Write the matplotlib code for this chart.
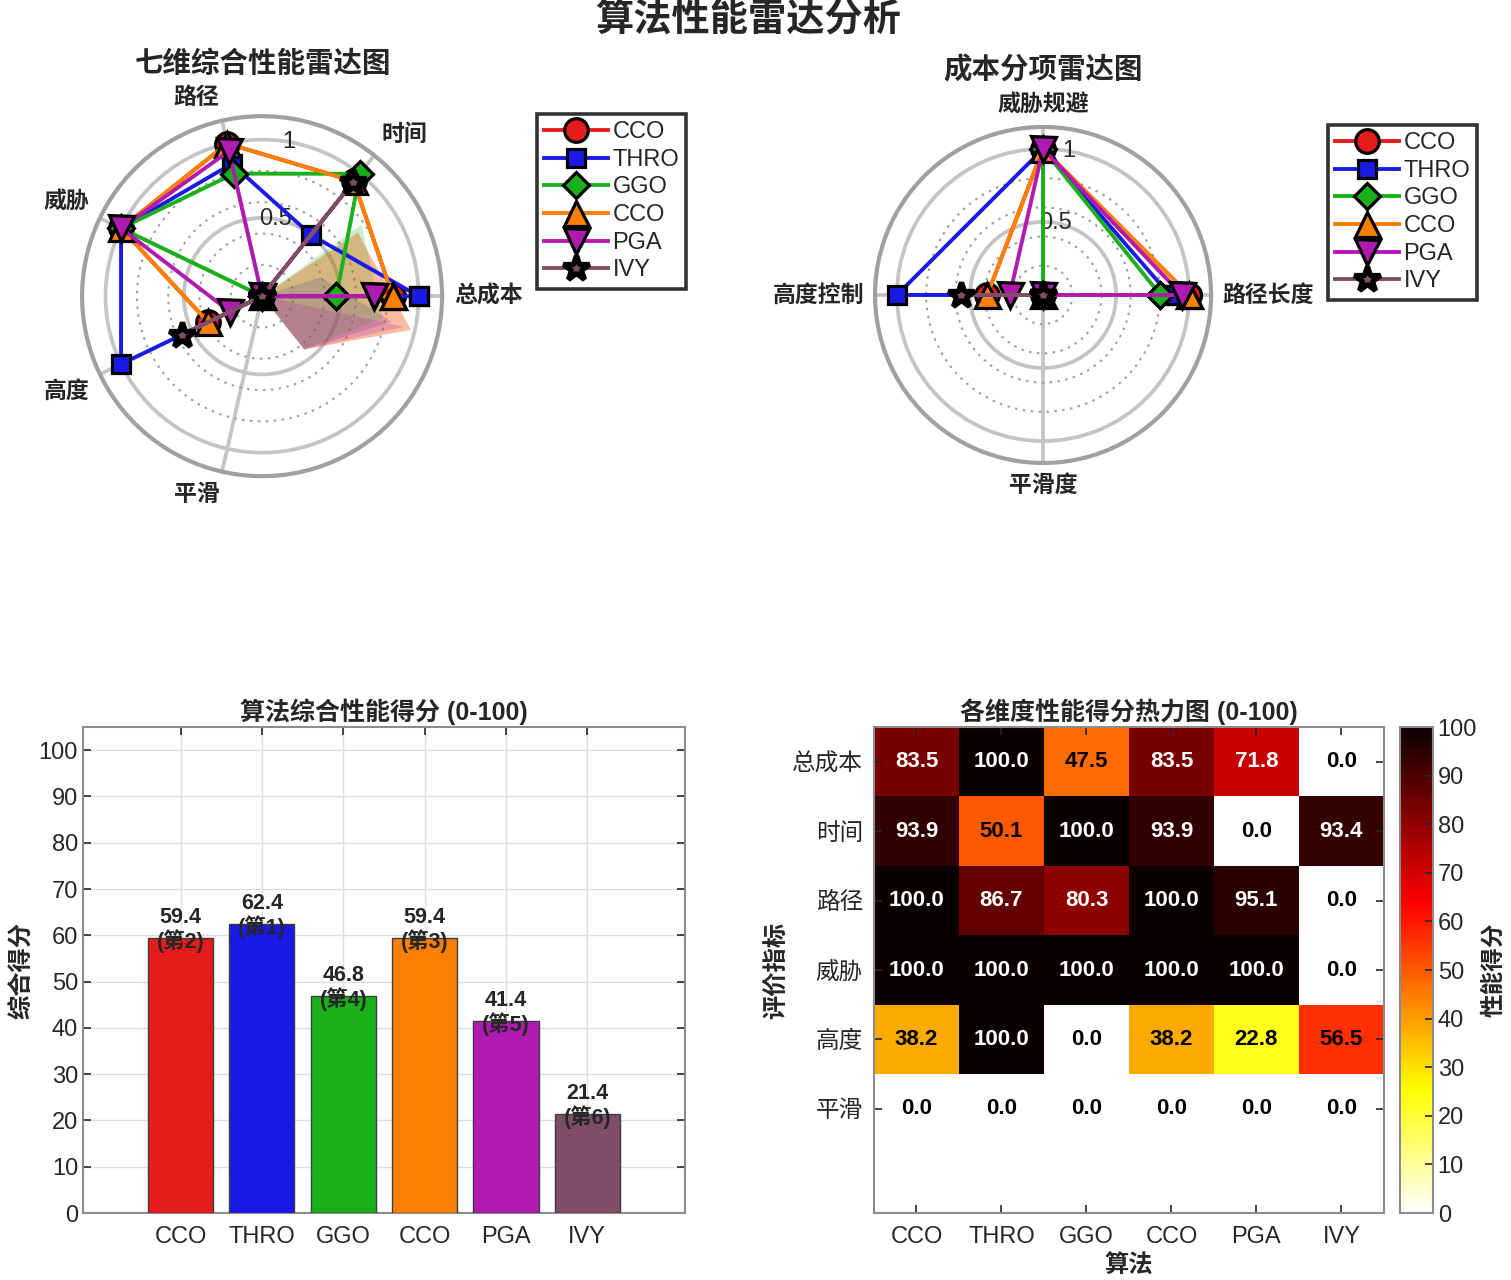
import numpy as np
import matplotlib
matplotlib.use('Agg')
import matplotlib.pyplot as plt
from matplotlib.lines import Line2D

plt.rcParams['font.family'] = ['Liberation Sans', 'Noto Sans CJK SC']
plt.rcParams['axes.unicode_minus'] = False

# ---------------- data ----------------
algorithms = ['CCO', 'THRO', 'GGO', 'CCO', 'PGA', 'IVY']
colors = ['#e61c1c', '#1a1ae6', '#1ab01a', '#ff8000', '#b01ab0', '#804d69']
markers = ['o', 's', 'D', '^', 'v', '*']
marker_sizes = [17, 13, 13, 18, 18, 19]
marker_edges = [2.3, 2.3, 2.3, 2.3, 2.3, 3.8]

dims_heat = ['总成本', '时间', '路径', '威胁', '高度', '平滑']
# per-dimension scores (0-100), one entry per algorithm
score_cost = [83.5, 100.0, 47.5, 83.5, 71.8, 0.0]
score_time = [93.9, 50.1, 100.0, 93.9, 0.0, 93.4]
score_path = [100.0, 86.7, 80.3, 100.0, 95.1, 0.0]
score_threat = [100.0, 100.0, 100.0, 100.0, 100.0, 0.0]
score_height = [38.2, 100.0, 0.0, 38.2, 22.8, 56.5]
score_smooth = [0.0, 0.0, 0.0, 0.0, 0.0, 0.0]
score_extra = [0.0, 0.0, 0.0, 0.0, 0.0, 0.0]   # 7th (unlabelled) radar dimension

radar7_labels = ['总成本', '时间', '路径', '威胁', '高度', '平滑']
radar4_labels = ['路径长度', '威胁规避', '高度控制', '平滑度']
r_ticks = [0.5, 1.0]
r_tick_labels = ['0.5', '1']
r_minor = [0.2, 0.4, 0.6, 0.8]

overall = [59.4, 62.4, 46.8, 59.4, 41.4, 21.4]
ranks = [2, 1, 4, 3, 5, 6]

# ---------------- figure ----------------
fig = plt.figure(figsize=(15.11, 12.8), dpi=100)
fig.patch.set_facecolor('white')

RMAX = 1.15
R_LAB = 1.225
TXT = '#262626'


def style_radar(ax, tick_angles, labels):
    ax.set_ylim(0, RMAX)
    ax.set_xticks(tick_angles)
    ax.set_xticklabels([])
    ax.set_yticks(r_ticks)
    ax.set_yticklabels([])
    ax.set_yticks(r_minor, minor=True)
    ax.yaxis.grid(True, which='major', color='#c4c4c4', lw=2.7)
    ax.yaxis.grid(True, which='minor', color='#a0a0a0', lw=1.5, ls=(0, (1.2, 2.6)))
    ax.xaxis.grid(True, color='#c4c4c4', lw=2.7)
    ax.tick_params(axis='y', which='both', length=0, pad=0)
    ax.tick_params(axis='x', length=0)
    ax.spines['polar'].set_color('#a0a0a0')
    ax.spines['polar'].set_linewidth(3.0)
    ax.set_axisbelow(True)
    for rv, rl in zip(r_ticks, r_tick_labels):
        ax.text(np.deg2rad(80), rv, rl, ha='center', va='center', fontsize=17,
                color=TXT, zorder=2)
    for a, lab in zip(tick_angles, labels):
        c, s = np.cos(a), np.sin(a)
        ha = 'left' if c > 0.1 else ('right' if c < -0.1 else 'center')
        va = 'bottom' if s > 0.1 else ('top' if s < -0.1 else 'center')
        ax.text(a, R_LAB, lab, ha=ha, va=va, fontsize=16.5, fontweight='bold',
                color=TXT)


def radar_line(ax, theta, vals, i):
    ax.plot(np.r_[theta, theta[0]], np.r_[vals, vals[0]], color=colors[i], lw=2.8,
            marker=markers[i], ms=marker_sizes[i], mfc=colors[i], mec='k',
            mew=marker_edges[i], zorder=3, clip_on=False)


# ---- radar 1 (7 dims, 6 labelled) ----
ax1 = fig.add_axes([0.0543, 0.628, 0.2383, 0.28125], projection='polar')
theta7 = np.arange(7) * 2 * np.pi / 7
style_radar(ax1, theta7[:6], radar7_labels)
series7 = [np.array([score_cost[i], score_time[i], score_path[i], score_threat[i],
                     score_height[i], score_smooth[i], score_extra[i]]) / 100.0
           for i in range(6)]
# fills (cartesian coordinates interpreted as (theta, r), as in the original)
for i, vals in enumerate(series7):
    fx = vals * np.cos(theta7)
    fy = np.clip(vals * np.sin(theta7), 0, None)
    ax1.fill(fx, fy, color=colors[i], alpha=0.22, lw=0, zorder=1)
for i, vals in enumerate(series7):
    radar_line(ax1, theta7, vals, i)

# ---- radar 2 (4 dims) ----
ax2 = fig.add_axes([0.5791, 0.6383, 0.2224, 0.2625], projection='polar')
theta4 = np.arange(4) * 2 * np.pi / 4
style_radar(ax2, theta4, radar4_labels)
for i in range(6):
    vals = np.array([score_path[i], score_threat[i], score_height[i], score_smooth[i]]) / 100.0
    radar_line(ax2, theta4, vals, i)

# legends
handles = [Line2D([], [], color=colors[i], lw=2.8, marker=markers[i], ms=marker_sizes[i],
                  mfc=colors[i], mec='k', mew=marker_edges[i]) for i in range(6)]
for anchor in [(0.3554, 0.9109), (0.8789, 0.9023)]:
    leg = fig.legend(handles, algorithms, loc='upper left', bbox_to_anchor=anchor,
                     fontsize=17, frameon=True, fancybox=False, edgecolor='black',
                     handlelength=2.7, handletextpad=0.2, borderaxespad=0,
                     borderpad=0.3, labelspacing=0.24)
    leg.get_frame().set_linewidth(2.6)
    for t in leg.get_texts():
        t.set_color(TXT)

# titles
fig.text(0.495, 1 - 21 / 1280, '算法性能雷达分析', ha='center', va='center',
         fontsize=27.5, fontweight='bold', color=TXT)
fig.text(263 / 1511, 1 - 64 / 1280, '七维综合性能雷达图', ha='center', va='center',
         fontsize=20.5, fontweight='bold', color=TXT)
fig.text(1043 / 1511, 1 - 70 / 1280, '成本分项雷达图', ha='center', va='center',
         fontsize=20.5, fontweight='bold', color=TXT)

# ---- bar chart ----
ax3 = fig.add_axes([0.0549, 0.0523, 0.3984, 0.3797])
xpos = np.arange(1, 7)
ax3.bar(xpos, overall, width=0.8, color=colors, edgecolor='#3c3c3c', lw=1.0, zorder=3)
ax3.set_xlim(-0.2, 7.2)
ax3.set_ylim(0, 105)
ax3.set_yticks(range(0, 101, 10))
ax3.set_xticks(xpos)
ax3.set_xticklabels(algorithms)
ax3.grid(True, color='#dedede', lw=1.0)
ax3.set_axisbelow(True)
ax3.tick_params(direction='in', top=True, right=True, labelsize=17, length=6,
                width=1.2, colors=TXT)
ax3.tick_params(axis='x', pad=9)
for sp in ax3.spines.values():
    sp.set_color('#8c8c8c')
    sp.set_linewidth(1.5)
ax3.set_ylabel('综合得分', fontsize=17.5, fontweight='bold', labelpad=3, color=TXT)
ax3.set_title('算法综合性能得分 (0-100)', fontsize=18, fontweight='bold', pad=5, color=TXT)
for x, v, rk in zip(xpos, overall, ranks):
    ax3.text(x, v + 1.8, f'{v:.1f}\n(第{rk})', ha='center', va='center', fontsize=15.5,
             fontweight='bold', linespacing=1.08, color=TXT, zorder=4)

# ---- heatmap ----
ax4 = fig.add_axes([0.5784, 0.0523, 0.3375, 0.3797])
M = np.array([score_cost, score_time, score_path, score_threat, score_height, score_smooth])
im = ax4.imshow(M, cmap='hot_r', vmin=0, vmax=100, aspect='auto',
                extent=(0.5, 6.5, 6.5, 0.5), interpolation='nearest')
ax4.set_xlim(0.5, 6.5)
ax4.set_ylim(7.5, 0.5)
ax4.set_xticks(xpos)
ax4.set_xticklabels(algorithms)
ax4.set_yticks(np.arange(1, 7))
ax4.set_yticklabels(dims_heat)
ax4.tick_params(direction='in', top=True, right=True, labelsize=17, length=6,
                width=1.2, colors=TXT)
ax4.tick_params(axis='x', pad=9)
ax4.tick_params(axis='y', pad=8)
for sp in ax4.spines.values():
    sp.set_color('#8c8c8c')
    sp.set_linewidth(1.5)
for r in range(M.shape[0]):
    for c in range(M.shape[1]):
        v = M[r, c]
        ax4.text(c + 1, r + 1, f'{v:.1f}', ha='center', va='center', fontsize=16,
                 fontweight='bold', color='white' if v > 60 else 'black')
ax4.set_title('各维度性能得分热力图 (0-100)', fontsize=18, fontweight='bold', pad=5,
              color=TXT)
ax4.set_xlabel('算法', fontsize=17.5, fontweight='bold', labelpad=5, color=TXT)
ax4.set_ylabel('评价指标', fontsize=17.5, fontweight='bold', labelpad=2, color=TXT)

cax = fig.add_axes([0.9265, 0.0523, 0.0218, 0.3797])
cb = fig.colorbar(im, cax=cax, ticks=range(0, 101, 10))
cb.set_label('性能得分', fontsize=17, fontweight='bold', color=TXT, labelpad=4)
cax.tick_params(direction='in', labelsize=17, length=6, width=1.2, colors=TXT)
cb.outline.set_edgecolor('#8c8c8c')
cb.outline.set_linewidth(1.5)

fig.savefig('out.png', dpi=100, facecolor='white')
